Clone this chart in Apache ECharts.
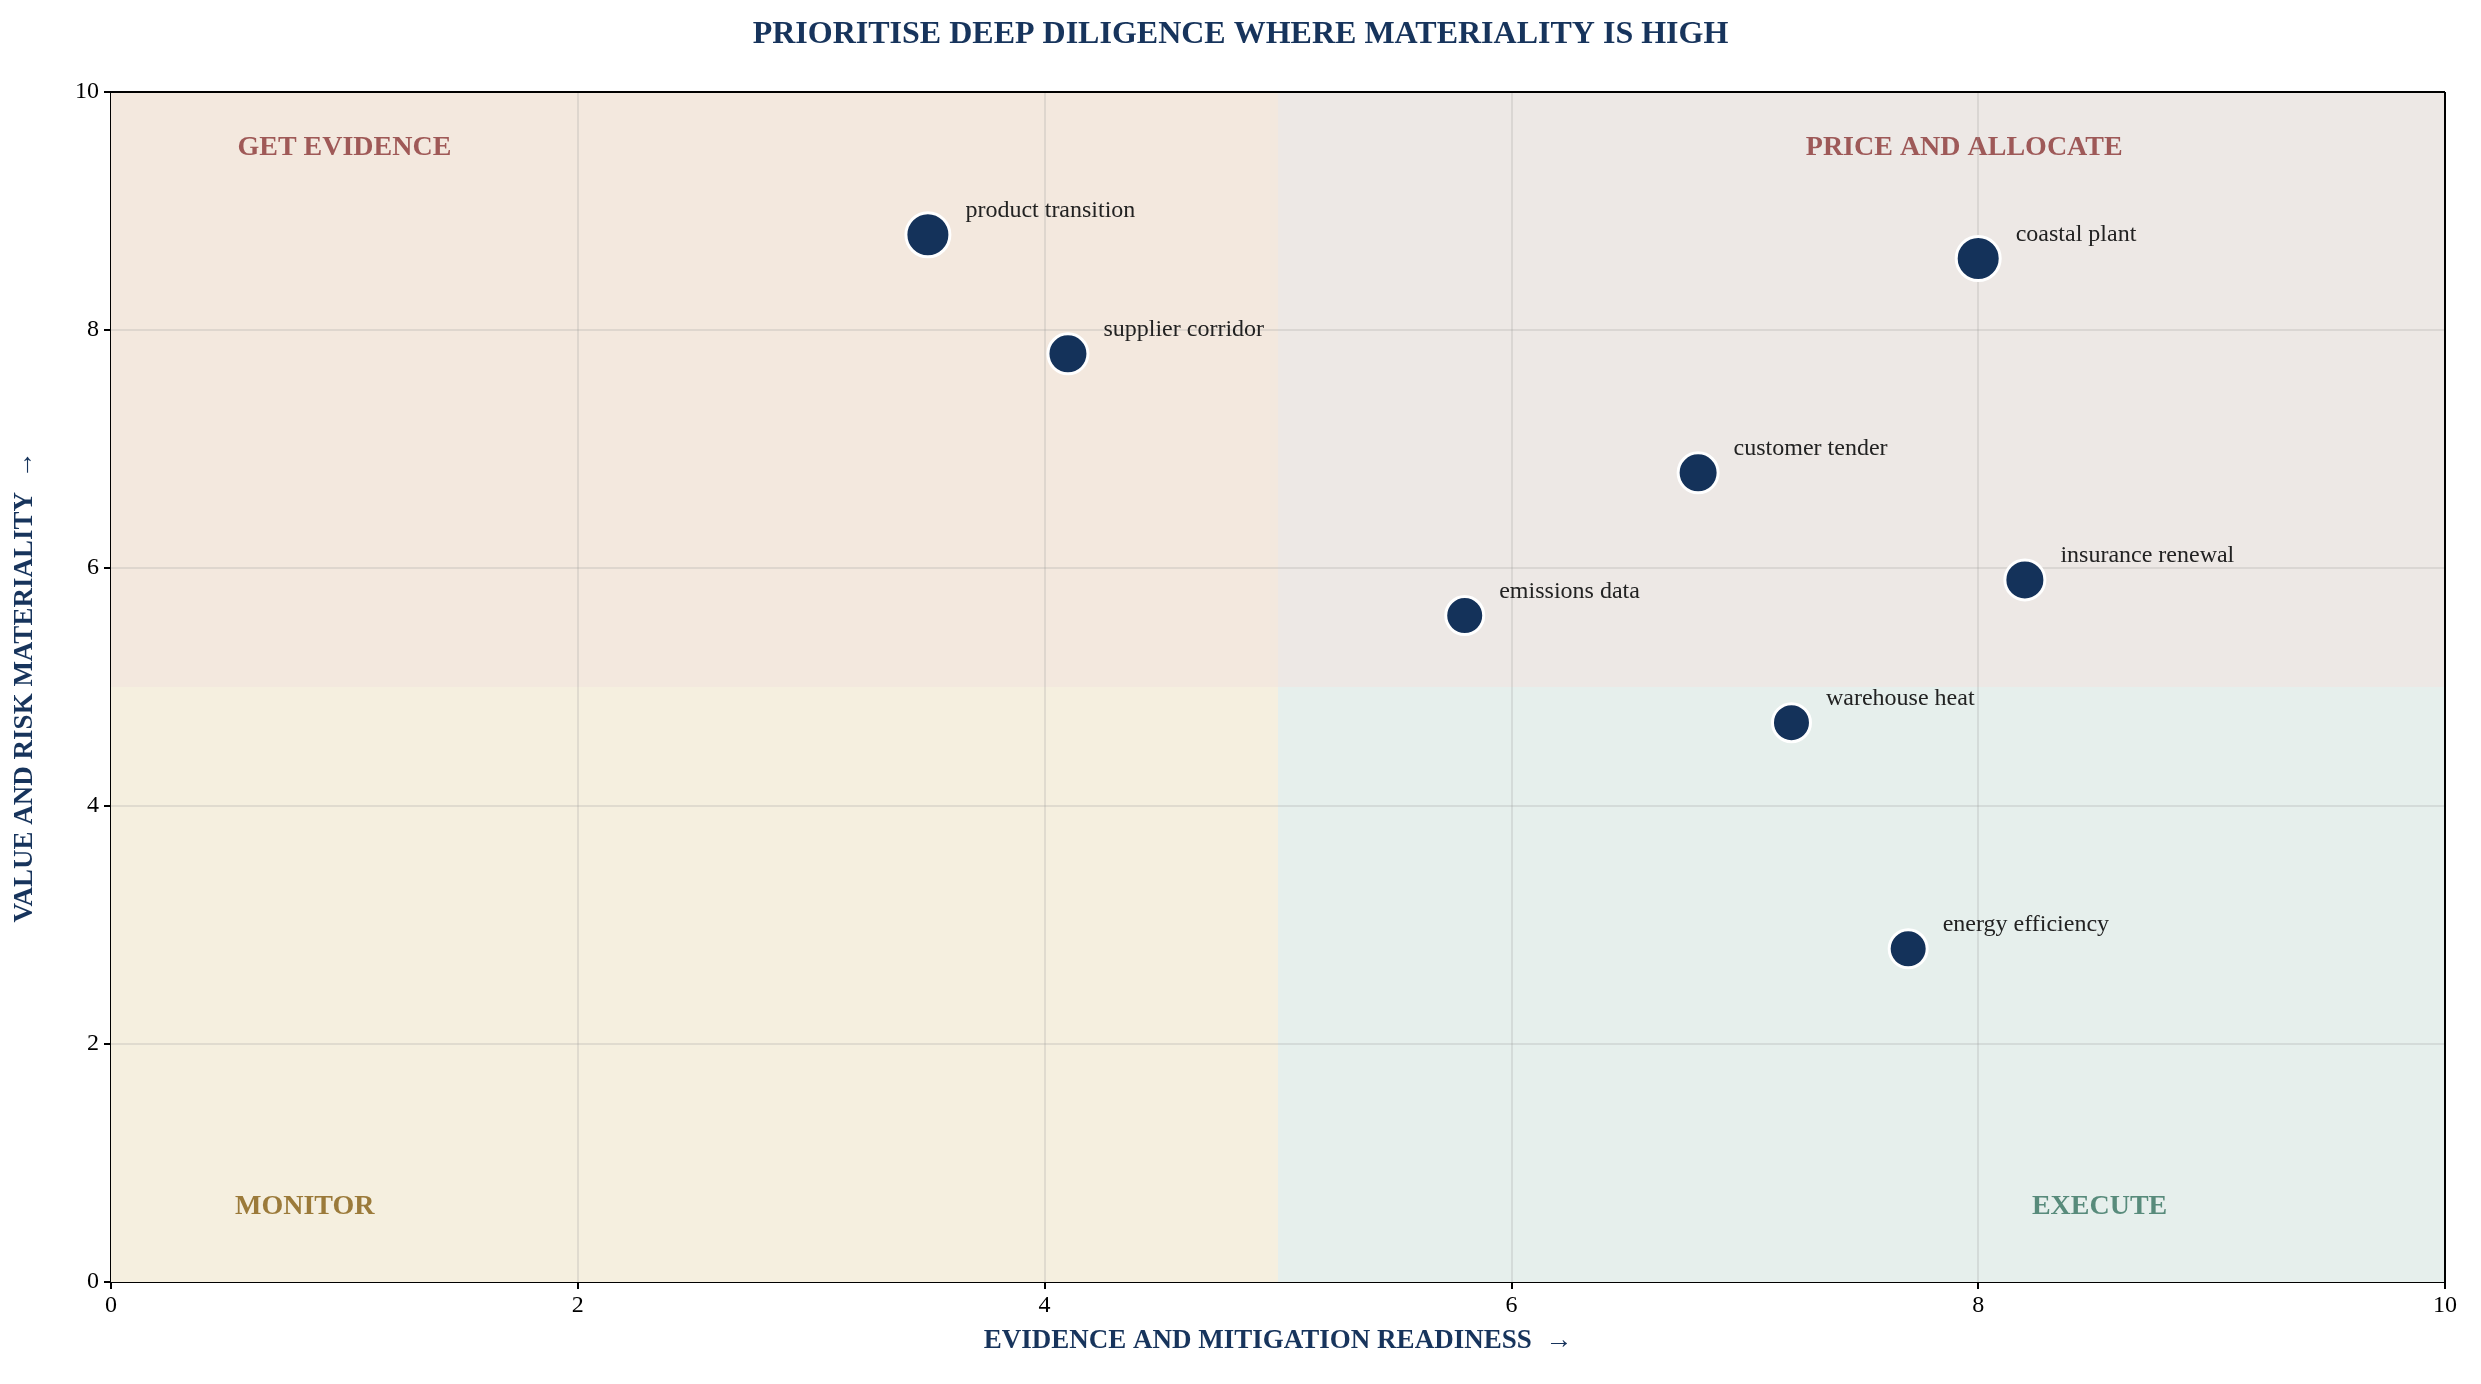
<!DOCTYPE html>
<html lang="en">
<head>
  <meta charset="UTF-8">
  <title>Diligence matrix</title>
  <script src="https://cdn.jsdelivr.net/npm/echarts@6/dist/echarts.min.js"></script>
</head>
<body style="margin:0;background:#fff">
  <div id="main" style="width:2481px;height:1384px;"></div>
  <script type="text/javascript">
    const names = ['product transition', 'supplier corridor', 'coastal plant', 'customer tender',
      'insurance renewal', 'emissions data', 'warehouse heat', 'energy efficiency']
    const readiness = [3.5, 4.1, 8.0, 6.8, 8.2, 5.8, 7.2, 7.7]
    const materiality = [8.8, 7.8, 8.6, 6.8, 5.9, 5.6, 4.7, 2.8]
    const sizes = [44, 40, 44, 40, 40, 38, 38, 38]
    const gridTicks = [2, 4, 6, 8]
    const quadLabels = [
      { name: 'GET EVIDENCE', x: 1.0, y: 9.53, color: '#8a3434' },
      { name: 'PRICE AND ALLOCATE', x: 7.94, y: 9.53, color: '#8a3434' },
      { name: 'MONITOR', x: 0.83, y: 0.63, color: '#845c10' },
      { name: 'EXECUTE', x: 8.52, y: 0.63, color: '#34725f' }
    ]
    const font = '"Liberation Serif", "DejaVu Serif", serif'

    const myChart = echarts.init(document.getElementById('main'))
    myChart.setOption({
      animation: false,
      textStyle: { fontFamily: font },
      title: {
        text: 'PRIORITISE DEEP DILIGENCE WHERE MATERIALITY IS HIGH',
        left: 'center', top: 14,
        textStyle: { fontFamily: font, fontSize: 32, fontWeight: 'bold', color: '#17345c' }
      },
      grid: { left: 111, right: 36, top: 92, bottom: 102 },
      xAxis: {
        min: 0, max: 10, interval: 2,
        name: 'EVIDENCE AND MITIGATION READINESS  →',
        nameLocation: 'middle', nameGap: 46,
        nameTextStyle: { fontFamily: font, fontSize: 27, fontWeight: 'bold', color: '#17345c' },
        axisLine: { onZero: false, lineStyle: { color: '#000', width: 2 } },
        axisTick: { lineStyle: { color: '#000', width: 2 }, length: 7 },
        axisLabel: { fontSize: 24, color: '#000', margin: 12 },
        splitLine: { show: false }
      },
      yAxis: {
        min: 0, max: 10, interval: 2,
        name: 'VALUE AND RISK MATERIALITY  →',
        nameLocation: 'middle', nameGap: 72,
        nameTextStyle: { fontFamily: font, fontSize: 27, fontWeight: 'bold', color: '#17345c' },
        axisLine: { onZero: false, lineStyle: { color: '#000', width: 2 } },
        axisTick: { lineStyle: { color: '#000', width: 2 }, length: 7 },
        axisLabel: { fontSize: 24, color: '#000', margin: 12 },
        splitLine: { show: false }
      },
      series: [
        {
          type: 'scatter',
          silent: true,
          symbolSize: 0,
          data: [],
          markArea: {
            silent: true,
            data: [
              [{ coord: [0, 5], itemStyle: { color: '#f3e8de' } }, { coord: [5, 10] }],
              [{ coord: [5, 5], itemStyle: { color: '#ede8e5' } }, { coord: [10, 10] }],
              [{ coord: [0, 0], itemStyle: { color: '#f5efdf' } }, { coord: [5, 5] }],
              [{ coord: [5, 0], itemStyle: { color: '#e6efec' } }, { coord: [10, 5] }]
            ]
          }
        },
        {
          type: 'scatter',
          silent: true,
          symbolSize: 0,
          z: 3,
          data: [],
          markLine: {
            silent: true, symbol: 'none', label: { show: false },
            lineStyle: { color: 'rgba(150,150,150,0.22)', width: 2, type: 'solid' },
            data: gridTicks.map(v => ({ xAxis: v })).concat(gridTicks.map(v => ({ yAxis: v })))
          }
        },
        {
          type: 'scatter',
          silent: true,
          symbolSize: 0,
          z: 3,
          data: [],
          markLine: {
            silent: true, symbol: 'none', label: { show: false },
            lineStyle: { color: '#000', width: 2, type: 'solid' },
            data: [{ yAxis: 10 }, { xAxis: 10 }]
          }
        },
        {
          type: 'scatter',
          silent: true,
          symbolSize: 0,
          data: quadLabels.map(q => ({
            value: [q.x, q.y], name: q.name,
            label: { color: q.color }
          })),
          label: {
            show: true, position: 'inside', formatter: '{b}',
            fontFamily: font, fontSize: 28, fontWeight: 'bold'
          }
        },
        {
          type: 'scatter',
          z: 5,
          data: names.map((n, i) => ({ value: [readiness[i], materiality[i]], name: n, symbolSize: sizes[i] })),
          itemStyle: { color: '#14325a', opacity: 1, borderColor: '#fff', borderWidth: 3 },
          label: {
            show: true, position: 'right', formatter: '{b}',
            distance: 14, offset: [0, -24],
            fontFamily: font, fontSize: 24, color: '#222'
          }
        }
      ]
    })
  </script>
</body>
</html>
